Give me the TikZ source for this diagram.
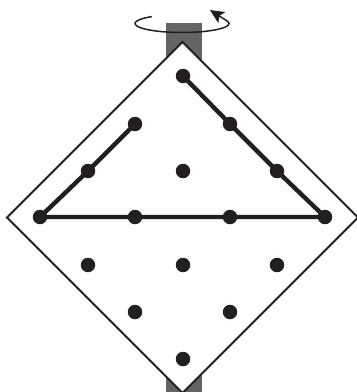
\documentclass[tikz,border=0pt]{standalone}
\usetikzlibrary{arrows.meta}
\definecolor{polegray}{HTML}{656366}
\definecolor{ink}{HTML}{231F20}
\tikzset{
  dot/.style={circle,fill=ink,draw=none,minimum size=14.5pt,inner sep=0pt},
  thick line/.style={draw=ink,line width=4.4pt},
  board/.style={draw=ink,fill=white,line width=2pt,line join=miter},
  pole/.style={fill=polegray,draw=none},
  spin/.style={draw=ink,line width=1.5pt},
  spinhead/.style={draw=ink,line width=1.5pt,-{Stealth[length=14pt,width=13pt,inset=3pt]}}
}
\begin{document}
\begin{tikzpicture}[x=1pt,y=-1pt]
\useasboundingbox (0,0) rectangle (357,392);
% pole
\fill[pole] (166,23) rectangle (202,80);
\fill[pole] (166,360) rectangle (202,392);
% rotation arrow
\draw[spin] (182,23.5) ++(-30.2,-6.9) arc[start angle=-130,end angle=-376,x radius=47,y radius=9] coordinate (spinend);
\coordinate (spintip) at (210,10);
\draw[spinhead] (spinend) -- (spintip);
% board
\coordinate (T) at (182.5,42);
\coordinate (L) at (7,217.5);
\coordinate (B) at (182.5,393);
\coordinate (R) at (358,217.5);
\draw[board] (T) -- (R) -- (B) -- (L) -- cycle;
% dots
\foreach \n/\x/\y in {a/183/76,
  b1/135/124, b2/230/124,
  c1/88/171, c2/183/171, c3/277/171,
  d1/40/217, d2/135/217, d3/230/217, d4/325/217,
  e1/88/265, e2/183/265, e3/277/265,
  f1/135/312, f2/230/312,
  g/183/359}
  \coordinate (\n) at (\x,\y);
\draw[thick line] (a) -- (b2) -- (c3) -- (d4) -- (d3) -- (d2) -- (d1) -- (c1) -- (b1);
\foreach \n in {a,b1,b2,c1,c2,c3,d1,d2,d3,d4,e1,e2,e3,f1,f2,g}
  \node[dot] (n\n) at (\n) {};
\end{tikzpicture}
\end{document}
